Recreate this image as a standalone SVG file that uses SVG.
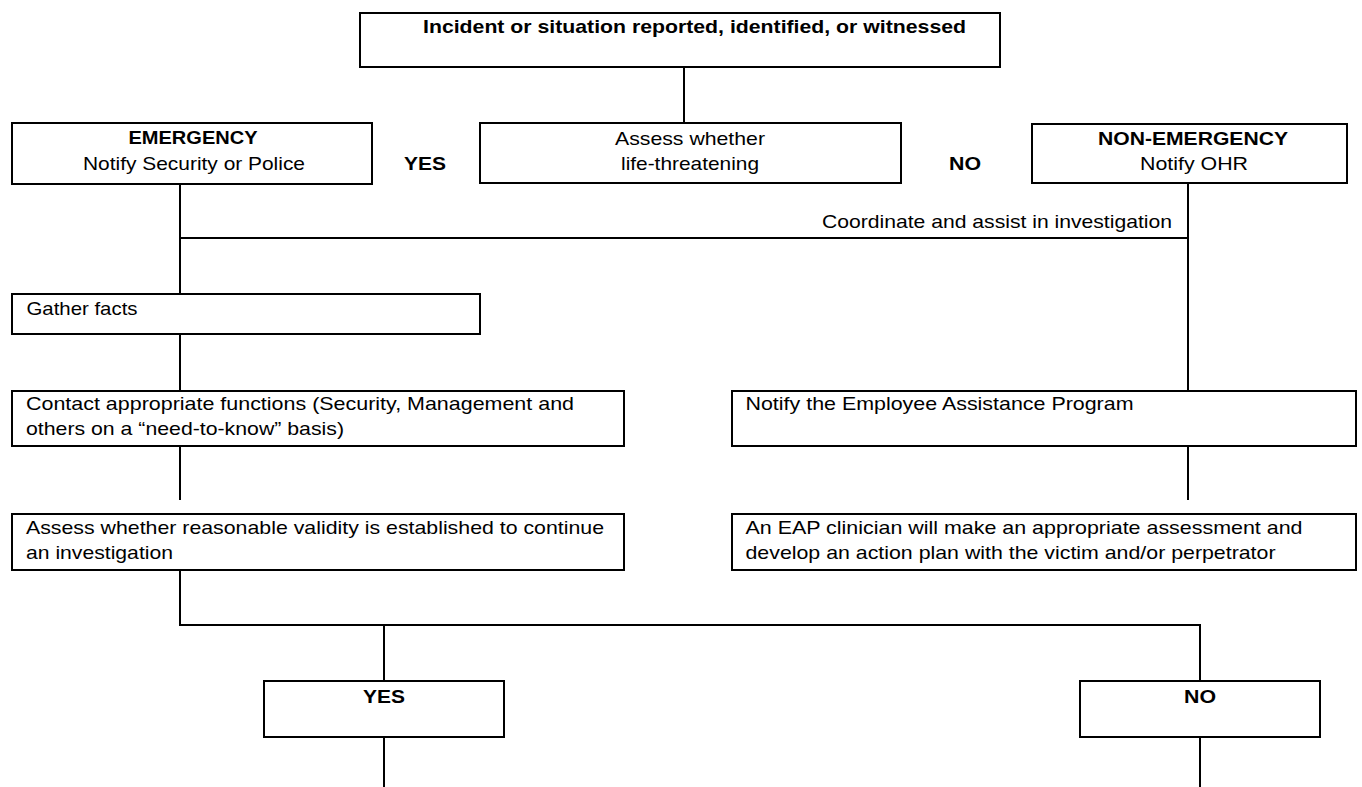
<svg xmlns="http://www.w3.org/2000/svg" width="1362" height="787" viewBox="0 0 1362 787">
<style>
  .box { fill: #ffffff; stroke: #000000; stroke-width: 2; }
  .con { fill: none; stroke: #000000; stroke-width: 2; }
  text { font-family: "Liberation Sans", Arial, sans-serif; font-size: 19px; fill: #000000; }
  .b { font-weight: bold; }
  .c { text-anchor: middle; }
</style>
<rect width="1362" height="787" fill="#ffffff"/>
<g id="connectors">
  <line class="con" x1="684" y1="67" x2="684" y2="123"/>
  <line class="con" x1="180" y1="184" x2="180" y2="294"/>
  <line class="con" x1="180" y1="238" x2="1188" y2="238"/>
  <line class="con" x1="1188" y1="183" x2="1188" y2="391"/>
  <line class="con" x1="180" y1="334" x2="180" y2="391"/>
  <line class="con" x1="180" y1="446" x2="180" y2="500"/>
  <line class="con" x1="1188" y1="446" x2="1188" y2="500"/>
  <polyline class="con" points="180,570 180,625 1200,625 1200,681"/>
  <line class="con" x1="384" y1="625" x2="384" y2="681"/>
  <line class="con" x1="384" y1="737" x2="384" y2="787"/>
  <line class="con" x1="1200" y1="737" x2="1200" y2="787"/>
  <text x="1172" y="228" text-anchor="end" textLength="350" lengthAdjust="spacingAndGlyphs">Coordinate and assist in investigation</text>
  <text class="b c" x="425" y="170" textLength="42" lengthAdjust="spacingAndGlyphs">YES</text>
  <text class="b c" x="965" y="170" textLength="32" lengthAdjust="spacingAndGlyphs">NO</text>
</g>
<g id="n-incident">
  <rect class="box" x="360" y="13" width="640" height="54"/>
  <text class="b" x="423" y="33" textLength="543" lengthAdjust="spacingAndGlyphs">Incident or situation reported, identified, or witnessed</text>
</g>
<g id="n-assess-life">
  <rect class="box" x="480" y="123" width="421" height="60"/>
  <text class="c" x="690" y="145" textLength="150" lengthAdjust="spacingAndGlyphs">Assess whether</text>
  <text class="c" x="690" y="170" textLength="138" lengthAdjust="spacingAndGlyphs">life-threatening</text>
</g>
<g id="n-emergency">
  <rect class="box" x="12" y="123" width="360" height="61"/>
  <text class="b c" x="193" y="144" textLength="129" lengthAdjust="spacingAndGlyphs">EMERGENCY</text>
  <text class="c" x="194" y="170" textLength="222" lengthAdjust="spacingAndGlyphs">Notify Security or Police</text>
</g>
<g id="n-nonemergency">
  <rect class="box" x="1032" y="124" width="315" height="59"/>
  <text class="b c" x="1193" y="145" textLength="190" lengthAdjust="spacingAndGlyphs">NON-EMERGENCY</text>
  <text class="c" x="1194" y="170" textLength="108" lengthAdjust="spacingAndGlyphs">Notify OHR</text>
</g>
<g id="n-gather">
  <rect class="box" x="12" y="294" width="468" height="40"/>
  <text x="26.5" y="315" textLength="111" lengthAdjust="spacingAndGlyphs">Gather facts</text>
</g>
<g id="n-contact">
  <rect class="box" x="12" y="391" width="612" height="55"/>
  <text x="26" y="410" textLength="548" lengthAdjust="spacingAndGlyphs">Contact appropriate functions (Security, Management and</text>
  <text x="26" y="435" textLength="318" lengthAdjust="spacingAndGlyphs">others on a “need-to-know” basis)</text>
</g>
<g id="n-validity">
  <rect class="box" x="12" y="514" width="612" height="56"/>
  <text x="26" y="534" textLength="578" lengthAdjust="spacingAndGlyphs">Assess whether reasonable validity is established to continue</text>
  <text x="26" y="559" textLength="147" lengthAdjust="spacingAndGlyphs">an investigation</text>
</g>
<g id="n-eap">
  <rect class="box" x="732" y="391" width="624" height="55"/>
  <text x="745.5" y="410" textLength="388" lengthAdjust="spacingAndGlyphs">Notify the Employee Assistance Program</text>
</g>
<g id="n-clinician">
  <rect class="box" x="732" y="514" width="624" height="56"/>
  <text x="745.5" y="534" textLength="557" lengthAdjust="spacingAndGlyphs">An EAP clinician will make an appropriate assessment and</text>
  <text x="745.5" y="559" textLength="530" lengthAdjust="spacingAndGlyphs">develop an action plan with the victim and/or perpetrator</text>
</g>
<g id="n-yes">
  <rect class="box" x="264" y="681" width="240" height="56"/>
  <text class="b c" x="384" y="703" textLength="42" lengthAdjust="spacingAndGlyphs">YES</text>
</g>
<g id="n-no">
  <rect class="box" x="1080" y="681" width="240" height="56"/>
  <text class="b c" x="1200" y="703" textLength="32" lengthAdjust="spacingAndGlyphs">NO</text>
</g>
</svg>
